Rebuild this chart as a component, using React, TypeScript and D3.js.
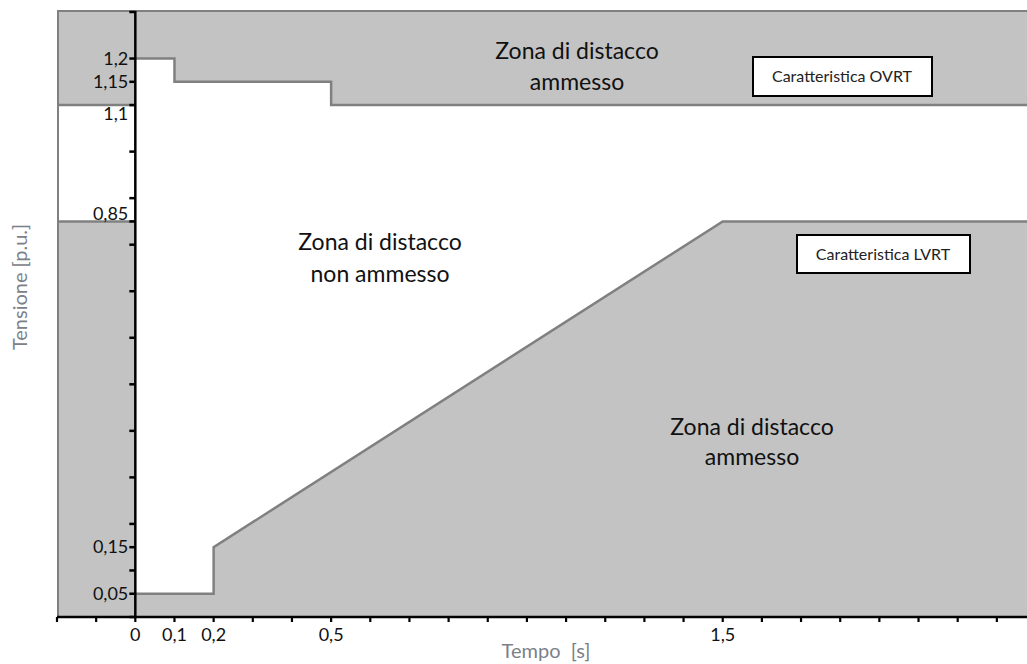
import React from "react";
import * as d3 from "d3";

// ---- data ----
const ovrtTime = [0, 0.1, 0.1, 0.5, 0.5, 2.277];
const ovrtVolt = [1.2, 1.2, 1.15, 1.15, 1.1, 1.1];
const lvrtTime = [0, 0.2, 0.2, 1.5, 2.277];
const lvrtVolt = [0.05, 0.05, 0.15, 0.85, 0.85];
const preTime = [-0.2, 0];
const preUpper = [1.1, 1.1];
const preLower = [0.85, 0.85];

const xTickValues = [-0.2, -0.1, 0, 0.1, 0.2, 0.3, 0.4, 0.5, 0.6, 0.7, 0.8, 0.9, 1.0, 1.1, 1.2, 1.3, 1.4, 1.5, 1.6, 1.7, 1.8, 1.9, 2.0, 2.1, 2.2];
const xLabelValues = [0, 0.1, 0.2, 0.5, 1.5];
const xLabelTexts = ["0", "0,1", "0,2", "0,5", "1,5"];
const yTickValues = [0, 0.05, 0.1, 0.15, 0.2, 0.3, 0.4, 0.5, 0.6, 0.7, 0.8, 0.85, 0.9, 1.0, 1.1, 1.15, 1.2, 1.3];
const yLabelValues = [0.05, 0.15, 0.85, 1.1, 1.15, 1.2];
const yLabelTexts = ["0,05", "0,15", "0,85", "1,1", "1,15", "1,2"];

const W = 1027;
const H = 664;
const FONT = "Lato, 'Open Sans', sans-serif";
const GRAY = "#c3c3c3";
const EDGE = "#808080";

export default function App() {
  const x = d3.scaleLinear().domain([-0.2, 2.277]).range([57, 1027]);
  const y = d3.scaleLinear().domain([0, 1.3]).range([617, 12]);
  const xMin = -0.2;
  const xMax = 2.277;

  const line = d3
    .line<[number, number]>()
    .x((d) => x(d[0]))
    .y((d) => y(d[1]));

  const ovrtPts: [number, number][] = ovrtTime.map((t, i) => [t, ovrtVolt[i]]);
  const lvrtPts: [number, number][] = lvrtTime.map((t, i) => [t, lvrtVolt[i]]);
  const preUpperPts: [number, number][] = preTime.map((t, i) => [t, preUpper[i]]);
  const preLowerPts: [number, number][] = preTime.map((t, i) => [t, preLower[i]]);

  const whitePoly: [number, number][] = [
    ...preUpperPts,
    ...ovrtPts,
    ...[...lvrtPts].reverse(),
    ...[...preLowerPts].reverse(),
  ];

  const yShift: Record<string, number> = { "1.1": 15, "0.85": -1 };

  return (
    <svg
      width={W}
      height={H}
      style={{ position: "absolute", left: 0, top: 0, background: "#fff" }}
      fontFamily={FONT}
    >
      <rect
        x={x(xMin)}
        y={y(1.3)}
        width={x(xMax) - x(xMin)}
        height={y(0) - y(1.3)}
        fill={GRAY}
      />
      <path d={line(whitePoly) + "Z"} fill="#fff" stroke="none" />
      <line x1={x(xMin) + 1} x2={x(xMin) + 1} y1={y(1.3) - 1} y2={y(0)} stroke={EDGE} strokeWidth={2} />
      <line x1={x(xMin)} x2={W} y1={y(1.3) - 1} y2={y(1.3) - 1} stroke={EDGE} strokeWidth={2} />
      <path d={line(preUpperPts)!} fill="none" stroke={EDGE} strokeWidth={2.5} />
      <path d={line(preLowerPts)!} fill="none" stroke={EDGE} strokeWidth={2.5} />
      <path d={line(ovrtPts)!} fill="none" stroke={EDGE} strokeWidth={2.5} />
      <path d={line(lvrtPts)!} fill="none" stroke={EDGE} strokeWidth={2.5} />

      {/* x axis */}
      <line x1={x(xMin)} x2={W} y1={y(0)} y2={y(0)} stroke="#000" strokeWidth={2.5} />
      {xTickValues.map((v) => (
        <line key={"xt" + v} x1={x(v)} x2={x(v)} y1={y(0)} y2={y(0) + 5} stroke="#000" strokeWidth={2.2} />
      ))}
      {xLabelValues.map((v, i) => (
        <text key={"xl" + v} x={x(v)} y={641} textAnchor="middle" fontSize={18} fill="#111">
          {xLabelTexts[i]}
        </text>
      ))}

      {/* y axis */}
      <line x1={x(0)} x2={x(0)} y1={y(1.3) - 1} y2={y(0)} stroke="#000" strokeWidth={2.5} />
      {yTickValues.map((v) => (
        <line key={"yt" + v} x1={x(0) - 6} x2={x(0)} y1={y(v)} y2={y(v)} stroke="#000" strokeWidth={2.5} />
      ))}
      {yLabelValues.map((v, i) => (
        <text
          key={"yl" + v}
          x={x(0) - 7}
          y={y(v) + (yShift[String(v)] ?? 6)}
          textAnchor="end"
          fontSize={18}
          fill="#111"
        >
          {yLabelTexts[i]}
        </text>
      ))}

      {/* axis titles */}
      <text x={546} y={658} textAnchor="middle" fontSize={20} fill="#7b8089" style={{ whiteSpace: "pre" }}>
        {"Tempo  [s]"}
      </text>
      <text
        transform="translate(27,287) rotate(-90)"
        textAnchor="middle"
        fontSize={20}
        fill="#7b8089"
      >
        Tensione [p.u.]
      </text>

      {/* zone labels */}
      <g fontSize={23} fill="#111" textAnchor="middle">
        <text x={577} y={59}>Zona di distacco</text>
        <text x={577} y={90}>ammesso</text>
        <text x={380} y={250}>Zona di distacco</text>
        <text x={380} y={282}>non ammesso</text>
        <text x={752} y={435}>Zona di distacco</text>
        <text x={752} y={465}>ammesso</text>
      </g>

      {/* legend boxes */}
      <rect x={753} y={57} width={179} height={39} fill="#fff" stroke="#000" strokeWidth={2} />
      <text x={842} y={82} textAnchor="middle" fontSize={16} fill="#222">
        Caratteristica OVRT
      </text>
      <rect x={797} y={235} width={173} height={38} fill="#fff" stroke="#000" strokeWidth={2} />
      <text x={883} y={260} textAnchor="middle" fontSize={16} fill="#222">
        Caratteristica LVRT
      </text>
    </svg>
  );
}
